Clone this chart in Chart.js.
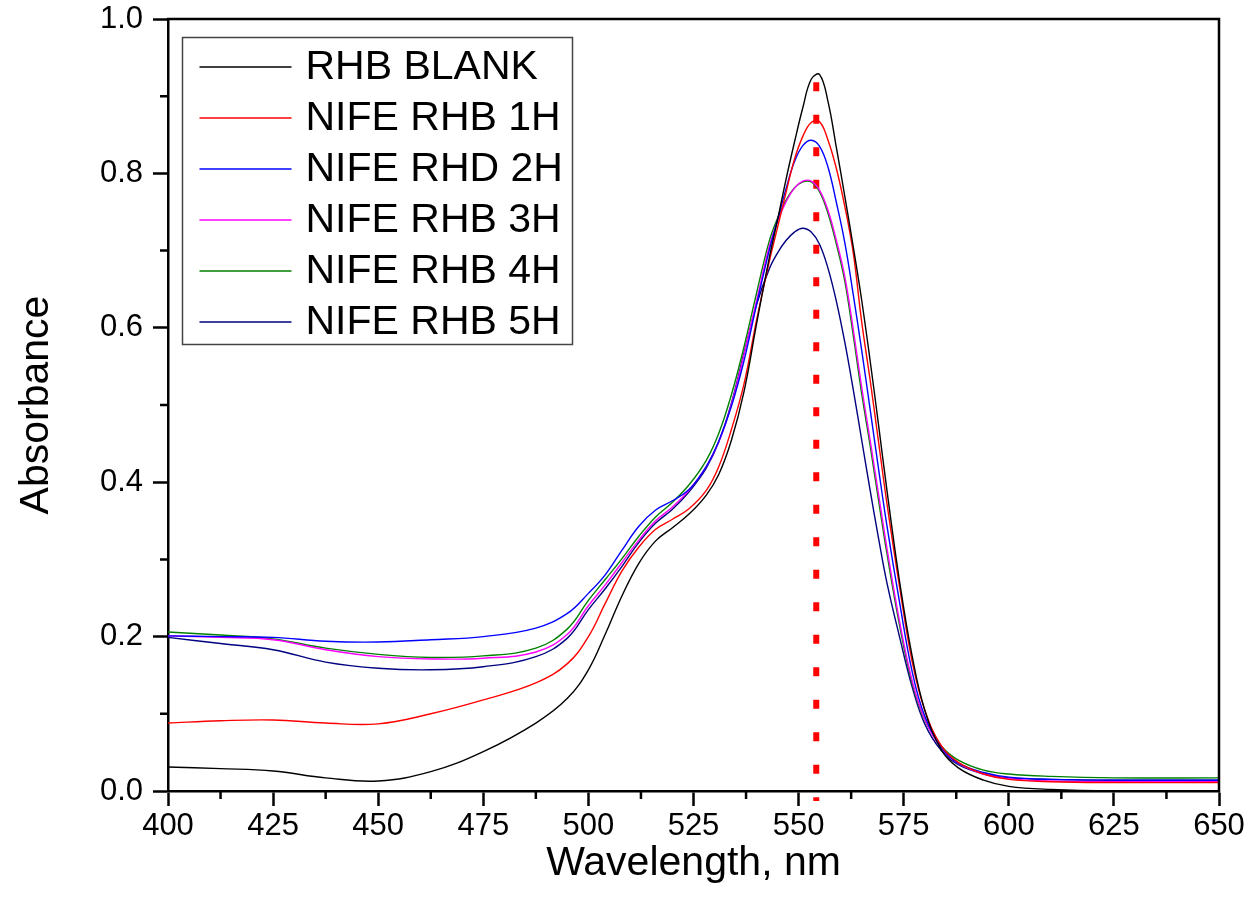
<!DOCTYPE html>
<html>
<head>
<meta charset="utf-8">
<script src="https://cdn.jsdelivr.net/npm/chart.js@4/dist/chart.umd.min.js"></script>
<style>
  html, body { margin: 0; padding: 0; background: #fff; }
</style>
</head>
<body>
<canvas id="myChart" width="1252" height="918"></canvas>
<script>
// wavelength grid (nm) shared by all spectra
var wavelength = [400, 412.5, 425, 437.5, 450, 462.5, 475, 487.5, 495, 500, 504, 508, 512, 516, 520, 524, 528, 531, 534, 537,
                  540, 543, 545, 547, 549, 551, 553, 555, 557, 559, 561, 563, 565, 567, 569, 571, 574, 577, 580, 584,
                  588, 594, 600, 610, 625, 650];

var rhbBlank = [0.031, 0.029, 0.026, 0.017, 0.013, 0.025, 0.051, 0.088, 0.120, 0.157, 0.203, 0.253, 0.295, 0.324, 0.341, 0.359, 0.383, 0.410, 0.454, 0.517,
                0.605, 0.690, 0.740, 0.792, 0.840, 0.885, 0.922, 0.928, 0.893, 0.833, 0.770, 0.705, 0.636, 0.558, 0.475, 0.390, 0.272, 0.175, 0.105, 0.053,
                0.030, 0.014, 0.006, 0.002, 0.0, 0.0];
var nife1h = [0.088, 0.091, 0.092, 0.088, 0.087, 0.100, 0.118, 0.140, 0.165, 0.200, 0.243, 0.285, 0.316, 0.339, 0.352, 0.366, 0.389, 0.420, 0.468, 0.527,
              0.610, 0.685, 0.730, 0.775, 0.818, 0.848, 0.866, 0.867, 0.843, 0.806, 0.757, 0.697, 0.608, 0.533, 0.453, 0.373, 0.265, 0.168, 0.105, 0.058,
              0.037, 0.022, 0.015, 0.012, 0.011, 0.011];
var nife2h = [0.201, 0.200, 0.199, 0.194, 0.193, 0.196, 0.200, 0.211, 0.230, 0.256, 0.280, 0.312, 0.343, 0.364, 0.376, 0.391, 0.420, 0.453, 0.498, 0.557,
              0.630, 0.700, 0.740, 0.780, 0.815, 0.836, 0.843, 0.835, 0.808, 0.762, 0.710, 0.643, 0.571, 0.495, 0.418, 0.344, 0.245, 0.155, 0.097, 0.056,
              0.036, 0.024, 0.018, 0.015, 0.014, 0.014];
var nife3h = [0.201, 0.199, 0.196, 0.183, 0.174, 0.171, 0.172, 0.180, 0.203, 0.240, 0.267, 0.296, 0.325, 0.350, 0.368, 0.390, 0.420, 0.452, 0.500, 0.565,
              0.635, 0.705, 0.738, 0.763, 0.781, 0.790, 0.790, 0.778, 0.752, 0.713, 0.666, 0.598, 0.523, 0.455, 0.385, 0.315, 0.220, 0.143, 0.093, 0.055,
              0.036, 0.022, 0.016, 0.013, 0.0125, 0.0125];
var nife4h = [0.206, 0.202, 0.197, 0.185, 0.177, 0.173, 0.175, 0.185, 0.210, 0.247, 0.274, 0.301, 0.330, 0.355, 0.374, 0.397, 0.428, 0.463, 0.513, 0.575,
              0.645, 0.712, 0.742, 0.765, 0.781, 0.789, 0.789, 0.776, 0.748, 0.708, 0.660, 0.590, 0.515, 0.448, 0.377, 0.308, 0.215, 0.140, 0.092, 0.058,
              0.040, 0.027, 0.022, 0.019, 0.017, 0.017];
var nife5h = [0.199, 0.191, 0.183, 0.167, 0.159, 0.157, 0.161, 0.174, 0.198, 0.235, 0.262, 0.291, 0.322, 0.347, 0.365, 0.388, 0.418, 0.452, 0.502, 0.567,
              0.630, 0.676, 0.697, 0.713, 0.724, 0.729, 0.724, 0.708, 0.677, 0.634, 0.581, 0.520, 0.455, 0.390, 0.328, 0.270, 0.200, 0.135, 0.087, 0.052,
              0.034, 0.022, 0.017, 0.015, 0.014, 0.014];

var seriesNames = ['RHB BLANK', 'NIFE RHB 1H', 'NIFE RHD 2H', 'NIFE RHB 3H', 'NIFE RHB 4H', 'NIFE RHB 5H'];
var seriesColors = ['#000000', '#ff0000', '#0000ff', '#ff00ff', '#008000', '#000080'];
var seriesValues = [rhbBlank, nife1h, nife2h, nife3h, nife4h, nife5h];

// red dotted marker at the absorption maximum
var peakWavelength = 554.2;
var peakLineY = [0.918, -0.013];

function toPoints(ys) {
    return ys.map(function (y, i) { return {x: wavelength[i], y: y}; });
}

var datasets = seriesValues.map(function (vals, i) {
    return {
        label: seriesNames[i],
        data: toPoints(vals),
        borderColor: seriesColors[i],
        borderWidth: 1.4,
        pointRadius: 0,
        fill: false,
        tension: 0.4
    };
});

datasets.push({
    label: '',
    data: peakLineY.map(function (y) { return {x: peakWavelength, y: y}; }),
    borderColor: '#ff0000',
    borderWidth: 6,
    borderDash: [9, 23.5],
    borderCapStyle: 'butt',
    pointRadius: 0,
    tension: 0,
    clip: false
});

var FONT = "'Liberation Sans', Arial, sans-serif";

// frame on top/right, minor ticks and the boxed legend inside the plot
var framePlugin = {
    id: 'frame',
    afterDraw: function (chart) {
        var ctx = chart.ctx, a = chart.chartArea;
        var xs = chart.scales.x, ys = chart.scales.y;
        ctx.save();
        ctx.strokeStyle = '#000';
        ctx.lineWidth = 2.5;
        ctx.beginPath();
        ctx.moveTo(a.left - 1.25, a.top);
        ctx.lineTo(a.right, a.top);
        ctx.lineTo(a.right, a.bottom + 1.25);
        ctx.stroke();

        // minor ticks halfway between major ticks
        ctx.beginPath();
        for (var i = 0; i < xs.ticks.length - 1; i++) {
            var px = xs.getPixelForValue((xs.ticks[i].value + xs.ticks[i + 1].value) / 2);
            ctx.moveTo(px, a.bottom);
            ctx.lineTo(px, a.bottom + 8);
        }
        for (var j = 0; j < ys.ticks.length - 1; j++) {
            var py = ys.getPixelForValue((ys.ticks[j].value + ys.ticks[j + 1].value) / 2);
            ctx.moveTo(a.left, py);
            ctx.lineTo(a.left - 8, py);
        }
        ctx.stroke();

        // legend
        var bx = a.left + 14.5, by = a.top + 18.5, bw = 390, bh = 307;
        ctx.fillStyle = '#fff';
        ctx.fillRect(bx, by, bw, bh);
        ctx.strokeStyle = '#444';
        ctx.lineWidth = 1.5;
        ctx.strokeRect(bx, by, bw, bh);
        ctx.font = '41px ' + FONT;
        ctx.textBaseline = 'middle';
        ctx.fillStyle = '#000';
        var items = chart.data.datasets.filter(function (d) { return d.label; });
        items.forEach(function (d, k) {
            var cy = by + 29.5 + k * 51;
            ctx.strokeStyle = d.borderColor;
            ctx.lineWidth = 1.3;
            ctx.beginPath();
            ctx.moveTo(bx + 17, cy);
            ctx.lineTo(bx + 109, cy);
            ctx.stroke();
            ctx.fillText(d.label, bx + 123, cy + 1);
        });
        ctx.restore();
    }
};

var chart = new Chart(document.getElementById('myChart').getContext('2d'), {
    type: 'line',
    data: {datasets: datasets},
    options: {
        responsive: false,
        animation: false,
        layout: {padding: {top: 19, right: 33, bottom: 0, left: 0}},
        plugins: {legend: {display: false}, tooltip: {enabled: false}},
        scales: {
            x: {
                type: 'linear',
                min: 400,
                max: 650,
                ticks: {stepSize: 25, color: '#000', font: {size: 31, family: FONT}, padding: 2, maxRotation: 0},
                grid: {drawOnChartArea: false, tickLength: 15, tickWidth: 2.5, tickColor: '#000'},
                border: {width: 2.5, color: '#000'},
                title: {display: true, text: 'Wavelength, nm', color: '#000', font: {size: 41, family: FONT}, padding: {top: 0, bottom: 30}},
                afterFit: function (s) { s.height = 127; s.paddingLeft = 0; s.paddingRight = 0; }
            },
            y: {
                min: 0,
                max: 1,
                ticks: {stepSize: 0.2, color: '#000', font: {size: 31, family: FONT}, padding: 10,
                        callback: function (v) { return v.toFixed(1); }},
                grid: {drawOnChartArea: false, tickLength: 15, tickWidth: 2.5, tickColor: '#000'},
                border: {width: 2.5, color: '#000'},
                title: {display: true, text: 'Absorbance', color: '#000', font: {size: 41, family: FONT}, padding: {top: 12, bottom: 0}},
                afterFit: function (s) { s.width = 168; s.paddingTop = 0; s.paddingBottom = 0; }
            }
        }
    },
    plugins: [framePlugin]
});
</script>
</body>
</html>
